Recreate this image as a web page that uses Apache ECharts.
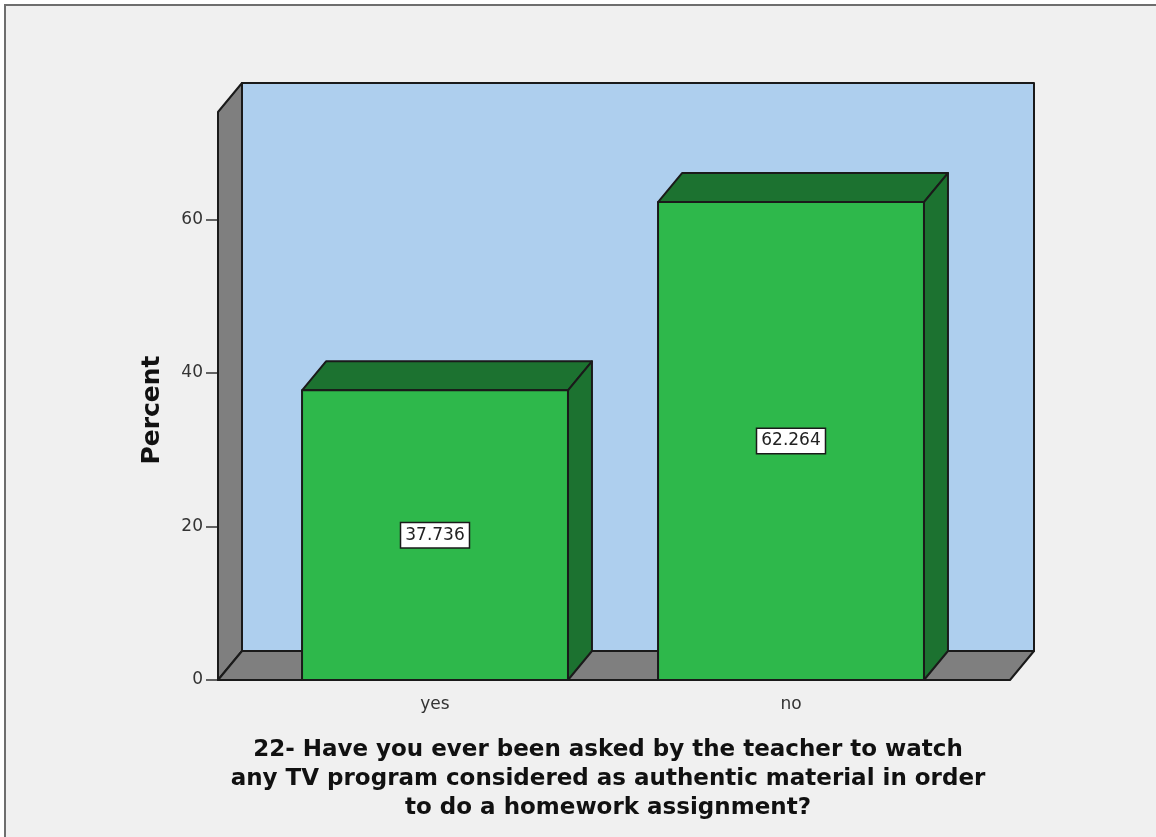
<!DOCTYPE html>
<html>
<head>
<meta charset="utf-8">
<script src="https://cdn.jsdelivr.net/npm/echarts@6/dist/echarts.min.js"></script>
<style>
  html, body { margin: 0; padding: 0; background: #fff; }
  #chart { width: 1156px; height: 837px; }
</style>
</head>
<body>
<div id="chart"></div>
<script>
  // data
  var categories = ['yes', 'no']
  var percents = [37.736, 62.264]
  var yTicks = [0, 20, 40, 60]
  var yMax = 74
  var questionText = '22- Have you ever been asked by the teacher to watch\nany TV program considered as authentic material in order\nto do a homework assignment?'

  // 3d look
  var depthX = 24
  var depthY = -29
  var padLeft = 39
  var padRight = 41
  var lineCol = '#1a1a1a'
  var fontFam = '"DejaVu Sans", Verdana, sans-serif'

  var chart = echarts.init(document.getElementById('chart'))

  function renderBackdrop (params, api) {
    var cs = params.coordSys
    var x0 = cs.x - padLeft
    var x1 = cs.x + cs.width + padRight
    var y0 = cs.y
    var yb = cs.y + cs.height
    var stroke = { stroke: lineCol, lineWidth: 2, lineJoin: 'round' }
    return {
      type: 'group',
      children: [{
        type: 'rect',
        shape: { x: x0 + depthX, y: y0 + depthY, width: x1 - x0, height: yb - y0 },
        style: Object.assign({ fill: '#aecfee' }, stroke)
      }, {
        type: 'polygon',
        shape: { points: [[x0, y0], [x0 + depthX, y0 + depthY], [x0 + depthX, yb + depthY], [x0, yb]] },
        style: Object.assign({ fill: '#7f7f7f' }, stroke)
      }, {
        type: 'polygon',
        shape: { points: [[x0, yb], [x0 + depthX, yb + depthY], [x1 + depthX, yb + depthY], [x1, yb]] },
        style: Object.assign({ fill: '#7f7f7f' }, stroke)
      }]
    }
  }

  function renderBar (params, api) {
    var top = api.coord([api.value(0), api.value(1)])
    var base = api.coord([api.value(0), 0])
    var w = api.size([1, 0])[0] * 0.747
    var xl = top[0] - w / 2
    var xr = top[0] + w / 2
    var yt = top[1]
    var yb = base[1]
    var stroke = { stroke: lineCol, lineWidth: 2, lineJoin: 'round' }
    return {
      type: 'group',
      children: [{
        type: 'polygon',
        shape: { points: [[xl, yt], [xl + depthX, yt + depthY], [xr + depthX, yt + depthY], [xr, yt]] },
        style: Object.assign({ fill: '#1c7230' }, stroke)
      }, {
        type: 'polygon',
        shape: { points: [[xr, yt], [xr + depthX, yt + depthY], [xr + depthX, yb + depthY], [xr, yb]] },
        style: Object.assign({ fill: '#1c7230' }, stroke)
      }, {
        type: 'rect',
        shape: { x: xl, y: yt, width: w, height: yb - yt },
        style: Object.assign({ fill: '#2eb84b' }, stroke)
      }, {
        type: 'text',
        z2: 10,
        style: {
          text: api.value(1).toFixed(3),
          x: top[0],
          y: (yt + yb) / 2,
          align: 'center',
          verticalAlign: 'middle',
          font: '17px ' + fontFam,
          fill: '#222',
          backgroundColor: '#fff',
          borderColor: lineCol,
          borderWidth: 1.5,
          padding: [4, 4, 3, 4]
        }
      }]
    }
  }

  chart.setOption({
    animation: false,
    backgroundColor: '#fff',
    graphic: [{
      type: 'rect',
      z: -10,
      shape: { x: 5, y: 5, width: 1160, height: 840 },
      style: { fill: '#f0f0f0', stroke: '#6e6e6e', lineWidth: 2 }
    }, {
      type: 'text',
      x: 152,
      y: 410,
      rotation: Math.PI / 2,
      style: {
        text: 'Percent',
        align: 'center',
        verticalAlign: 'middle',
        font: 'bold 25px ' + fontFam,
        fill: '#111'
      }
    }],
    title: {
      text: questionText,
      left: 603,
      top: 731,
      textAlign: 'center',
      textStyle: {
        fontFamily: fontFam,
        fontSize: 23,
        fontWeight: 'bold',
        lineHeight: 29,
        color: '#111'
      }
    },
    grid: { left: 257, right: 187, top: 112, bottom: 157 },
    xAxis: {
      type: 'category',
      data: categories,
      axisLine: { show: false },
      axisTick: { alignWithLabel: true, length: 12, lineStyle: { color: '#333', width: 1.5 } },
      axisLabel: { fontFamily: fontFam, fontSize: 17, color: '#333', margin: 16 }
    },
    yAxis: {
      type: 'value',
      min: 0,
      max: yMax,
      offset: padLeft,
      splitLine: { show: false },
      axisLine: { show: false },
      axisTick: { show: true, length: 12, customValues: yTicks, lineStyle: { color: '#333', width: 1.5 } },
      axisLabel: { fontFamily: fontFam, fontSize: 17, color: '#333', margin: 15, customValues: yTicks }
    },
    series: [{
      type: 'custom',
      name: 'backdrop',
      z: 1,
      silent: true,
      renderItem: renderBackdrop,
      data: [[0, 0]]
    }, {
      type: 'custom',
      name: 'Percent',
      z: 2,
      renderItem: renderBar,
      encode: { x: 0, y: 1 },
      data: categories.map(function (c, i) { return [i, percents[i]] })
    }]
  })
</script>
</body>
</html>
